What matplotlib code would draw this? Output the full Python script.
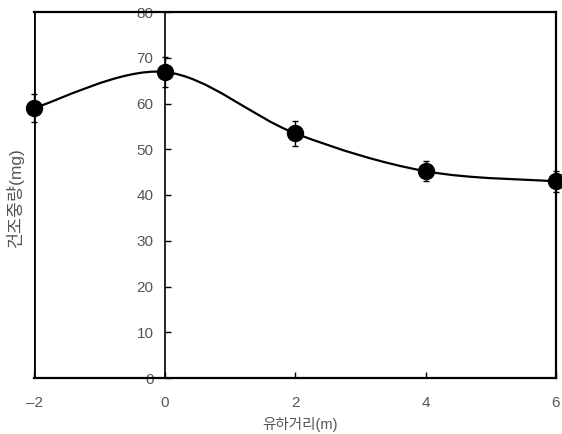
import numpy as np
import matplotlib.pyplot as plt
from matplotlib.path import Path
from matplotlib.patches import PathPatch

plt.rcParams['font.family'] = ['Liberation Sans', 'Noto Sans CJK KR', 'DejaVu Sans']

# data
distance = [-2, 0, 2, 4, 6]
dry_weight = [59.0, 66.9, 53.5, 45.2, 43.0]
dry_err = [3.0, 3.2, 2.7, 2.2, 2.3]

x_ticks = [-2, 0, 2, 4, 6]
y_ticks = [0, 10, 20, 30, 40, 50, 60, 70, 80]

txt_color = '#555555'

fig = plt.figure(figsize=(5.62, 4.34), dpi=100)
ax = fig.add_axes([34 / 562, 56 / 434, 522 / 562, 366 / 434])

# smoothed line (Catmull-Rom style bezier through the points, like Excel)
xs = np.array(distance, dtype=float)
ys = np.array(dry_weight, dtype=float)
verts = [(xs[0], ys[0])]
codes = [Path.MOVETO]
t = 1 / 6
for i in range(len(xs) - 1):
    x0, y0 = (xs[i - 1], ys[i - 1]) if i > 0 else (xs[i], ys[i])
    x3, y3 = (xs[i + 2], ys[i + 2]) if i + 2 < len(xs) else (xs[i + 1], ys[i + 1])
    c1 = (xs[i] + (xs[i + 1] - x0) * t, ys[i] + (ys[i + 1] - y0) * t)
    c2 = (xs[i + 1] - (x3 - xs[i]) * t, ys[i + 1] - (y3 - ys[i]) * t)
    verts += [c1, c2, (xs[i + 1], ys[i + 1])]
    codes += [Path.CURVE4] * 3
ax.add_patch(PathPatch(Path(verts, codes), fill=False, lw=1.6, color='black', zorder=3))

eb = ax.errorbar(distance, dry_weight, yerr=dry_err, fmt='o', color='black',
                 markersize=11.5, elinewidth=1.0, capsize=2.5, capthick=1.0, zorder=6)
for art in [eb[0], *eb[1], *eb[2]]:
    art.set_clip_on(False)

ax.set_xlim(-2, 6)
ax.set_ylim(0, 80)
ax.spines['left'].set_position(('data', 0))
ax.axvline(-2, color='black', lw=2, zorder=5)
for s in ax.spines.values():
    s.set_linewidth(1.6)
    s.set_color('black')
ax.spines['left'].set_linewidth(1.2)

ax.set_xticks(x_ticks)
ax.set_yticks(y_ticks)
ax.tick_params(axis='y', direction='in', length=4, width=1, pad=8,
               labelsize=11, labelcolor=txt_color)
ax.tick_params(axis='x', direction='in', length=4, width=1, pad=13,
               labelsize=11, labelcolor=txt_color)
ax.set_xticklabels(['\u20132', '0', '2', '4', '6'])

fig.text(15 / 562, 1 - 197 / 434, '건조중량(mg)', rotation=90, ha='center', va='center',
         fontsize=12.5, color=txt_color)
fig.text(300 / 562, 1 - 425 / 434, '유하거리(m)', ha='center', va='center',
         fontsize=10.5, color=txt_color)

fig.savefig('out.png', dpi=100)
